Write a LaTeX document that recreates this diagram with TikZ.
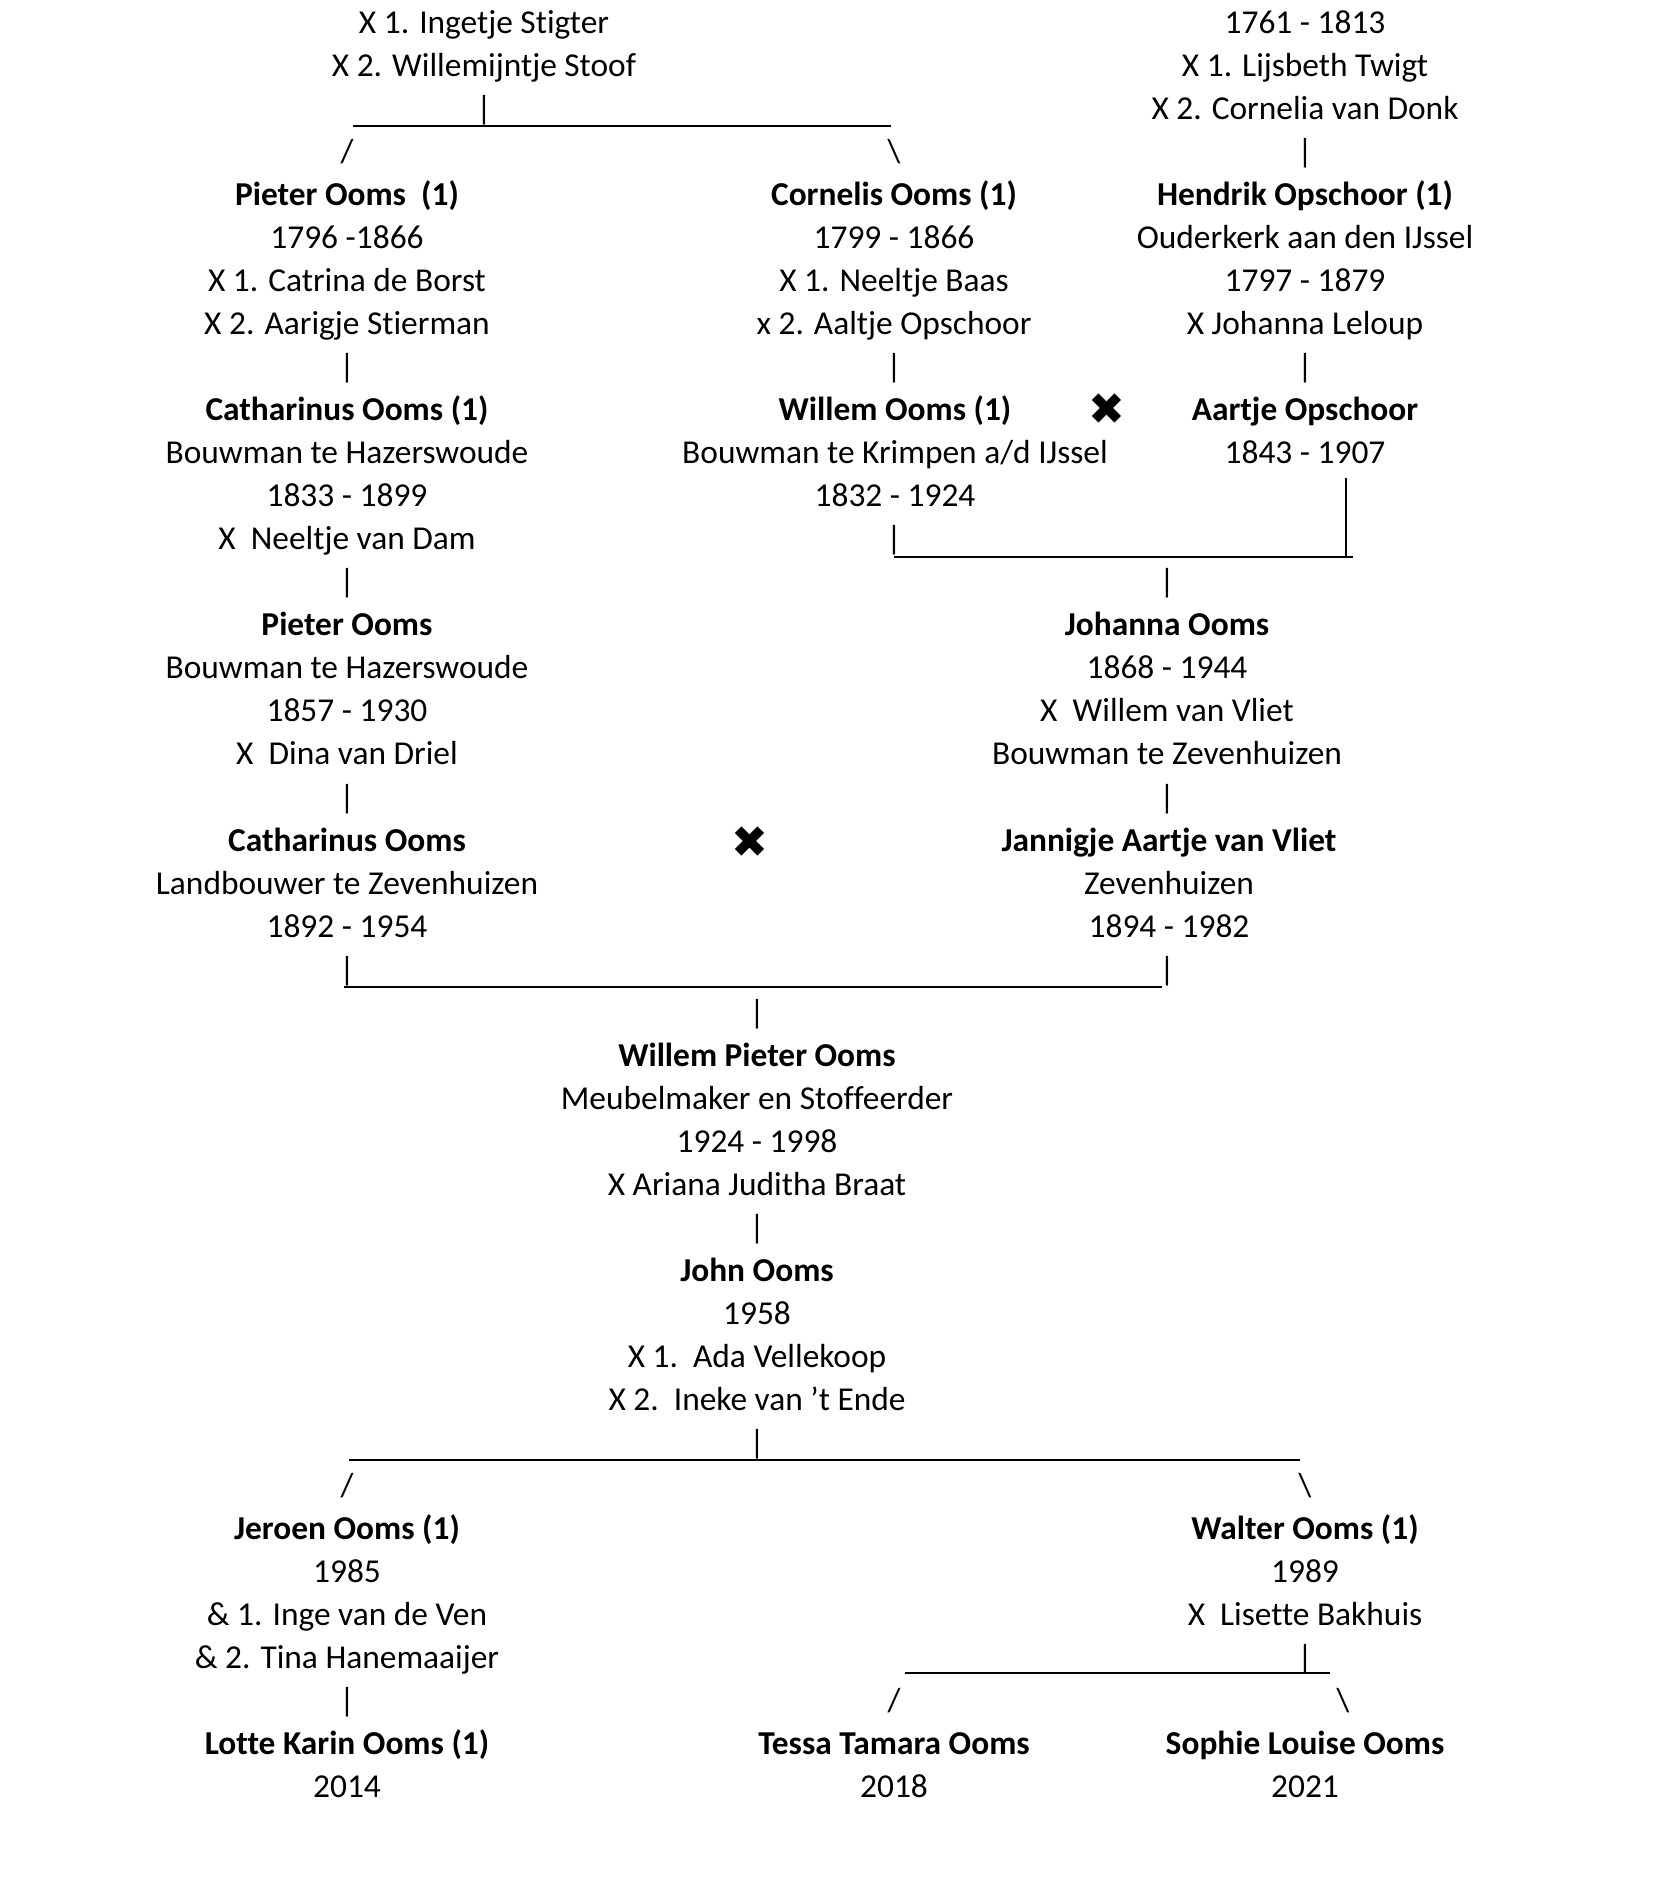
\documentclass[tikz,border=0pt]{standalone}
\usepackage{fontspec}
\setmainfont{Carlito}[Ligatures=NoCommon]
\newfontfamily\symfont{DejaVu Sans}
\newcommand\fs{\fontsize{16.7}{21.5}\selectfont}
\newcommand\plines[1]{\begin{tabular}[t]{@{}c@{}}#1\end{tabular}}
\newcommand\ry[1]{{33.5+43.03*#1}}
\begin{document}
\begin{tikzpicture}[x=0.5pt,y=-0.5pt,
  person/.style={inner sep=0pt, anchor=base, font=\fs},
  glyph/.style={inner sep=0pt, anchor=base, font=\fs},
  cross/.style={inner sep=0pt, anchor=center, font=\symfont\fontsize{22}{22}\selectfont},
  link/.style={line width=0.9pt},
  thinlink/.style={line width=0.6pt}]
\useasboundingbox (0,0) rectangle (1654,1882);

% ---- persons ----
\node[person] (anc1) at (484,\ry{0}) {\plines{X 1. Ingetje Stigter\\X 2. Willemijntje Stoof}};
\node[person] (anc2) at (1305,\ry{0}) {\plines{1761 - 1813\\X 1. Lijsbeth Twigt\\X 2. Cornelia van Donk}};
\node[person] (pieter1) at (347,\ry{4}) {\plines{\textbf{Pieter Ooms\ \ (1)}\\1796 -1866\\X 1. Catrina de Borst\\X 2. Aarigje Stierman}};
\node[person] (cornelis) at (894,\ry{4}) {\plines{\textbf{Cornelis Ooms (1)}\\1799 - 1866\\X 1. Neeltje Baas\\x 2. Aaltje Opschoor}};
\node[person] (hendrik) at (1305,\ry{4}) {\plines{\textbf{Hendrik Opschoor (1)}\\Ouderkerk aan den IJssel\\1797 - 1879\\X Johanna Leloup}};
\node[person] (cath1) at (347,\ry{9}) {\plines{\textbf{Catharinus Ooms (1)}\\Bouwman te Hazerswoude\\1833 - 1899\\X\ \ Neeltje van Dam}};
\node[person] (willem1) at (895,\ry{9}) {\plines{\textbf{Willem Ooms (1)}\\Bouwman te Krimpen a/d IJssel\\1832 - 1924}};
\node[person] (aartje) at (1305,\ry{9}) {\plines{\textbf{Aartje Opschoor}\\1843 - 1907}};
\node[person] (pieter2) at (347,\ry{14}) {\plines{\textbf{Pieter Ooms}\\Bouwman te Hazerswoude\\1857 - 1930\\X\ \ Dina van Driel}};
\node[person] (johanna) at (1167,\ry{14}) {\plines{\textbf{Johanna Ooms}\\1868 - 1944\\X\ \ Willem van Vliet\\Bouwman te Zevenhuizen}};
\node[person] (cath2) at (347,\ry{19}) {\plines{\textbf{Catharinus Ooms}\\Landbouwer te Zevenhuizen\\1892 - 1954}};
\node[person] (jannigje) at (1169,\ry{19}) {\plines{\textbf{Jannigje Aartje van Vliet}\\Zevenhuizen\\1894 - 1982}};
\node[person] (willemp) at (757,\ry{24}) {\plines{\textbf{Willem Pieter Ooms}\\Meubelmaker en Stoffeerder\\1924 - 1998\\X Ariana Juditha Braat}};
\node[person] (john) at (757,\ry{29}) {\plines{\textbf{John Ooms}\\1958\\X 1.\ \ Ada Vellekoop\\X 2.\ \ Ineke van ’t Ende}};
\node[person] (jeroen) at (347,\ry{35}) {\plines{\textbf{Jeroen Ooms (1)}\\1985\\\& 1. Inge van de Ven\\\& 2. Tina Hanemaaijer}};
\node[person] (walter) at (1305,\ry{35}) {\plines{\textbf{Walter Ooms (1)}\\1989\\X\ \ Lisette Bakhuis}};
\node[person] (lotte) at (347,\ry{40}) {\plines{\textbf{Lotte Karin Ooms (1)}\\2014}};
\node[person] (tessa) at (894,\ry{40}) {\plines{\textbf{Tessa Tamara Ooms}\\2018}};
\node[person] (sophie) at (1305,\ry{40}) {\plines{\textbf{Sophie Louise Ooms}\\2021}};

% ---- marriage crosses ----
\node[cross] (x1) at (1107,409) {✖};
\node[cross] (x2) at (750,842) {✖};

% ---- glyph connectors ----
\node[glyph] (b1) at (484,\ry{2}) {\textbar};
\node[glyph] (s1) at (347,\ry{3}) {/};
\node[glyph] (s2) at (894,\ry{3}) {\textbackslash};
\node[glyph] (b2) at (1305,\ry{3}) {\textbar};
\node[glyph] (b3) at (347,\ry{8}) {\textbar};
\node[glyph] (b4) at (894,\ry{8}) {\textbar};
\node[glyph] (b5) at (1305,\ry{8}) {\textbar};
\node[glyph] (b6) at (894,\ry{12}) {\textbar};
\node[glyph] (b7) at (347,\ry{13}) {\textbar};
\node[glyph] (b8) at (1167,\ry{13}) {\textbar};
\node[glyph] (b9) at (347,\ry{18}) {\textbar};
\node[glyph] (b10) at (1167,\ry{18}) {\textbar};
\node[glyph] (b11) at (347,\ry{22}) {\textbar};
\node[glyph] (b12) at (1167,\ry{22}) {\textbar};
\node[glyph] (b13) at (757,\ry{23}) {\textbar};
\node[glyph] (b14) at (757,\ry{28}) {\textbar};
\node[glyph] (b15) at (757,\ry{33}) {\textbar};
\node[glyph] (s3) at (347,\ry{34}) {/};
\node[glyph] (s4) at (1305,\ry{34}) {\textbackslash};
\node[glyph] (b16) at (1305,\ry{38}) {\textbar};
\node[glyph] (b17) at (347,\ry{39}) {\textbar};
\node[glyph] (s5) at (894,\ry{39}) {/};
\node[glyph] (s6) at (1343,\ry{39}) {\textbackslash};

% ---- drawn lines ----
\coordinate (t1a) at (353,126);  \coordinate (t1b) at (891,126);
\coordinate (t2a) at (894,557);  \coordinate (t2b) at (1353,557);
\coordinate (t2c) at (1346,478); \coordinate (t2d) at (1346,557);
\coordinate (t3a) at (344,987);  \coordinate (t3b) at (1162,987);
\coordinate (t4a) at (349,1460); \coordinate (t4b) at (1300,1460);
\coordinate (t5a) at (905,1673); \coordinate (t5b) at (1330,1673);
\draw[link] (t1a) -- (t1b);
\draw[link] (t2a) -- (t2b);
\draw[thinlink] (t2c) -- (t2d);
\draw[link] (t3a) -- (t3b);
\draw[link] (t4a) -- (t4b);
\draw[link] (t5a) -- (t5b);
\end{tikzpicture}
\end{document}
